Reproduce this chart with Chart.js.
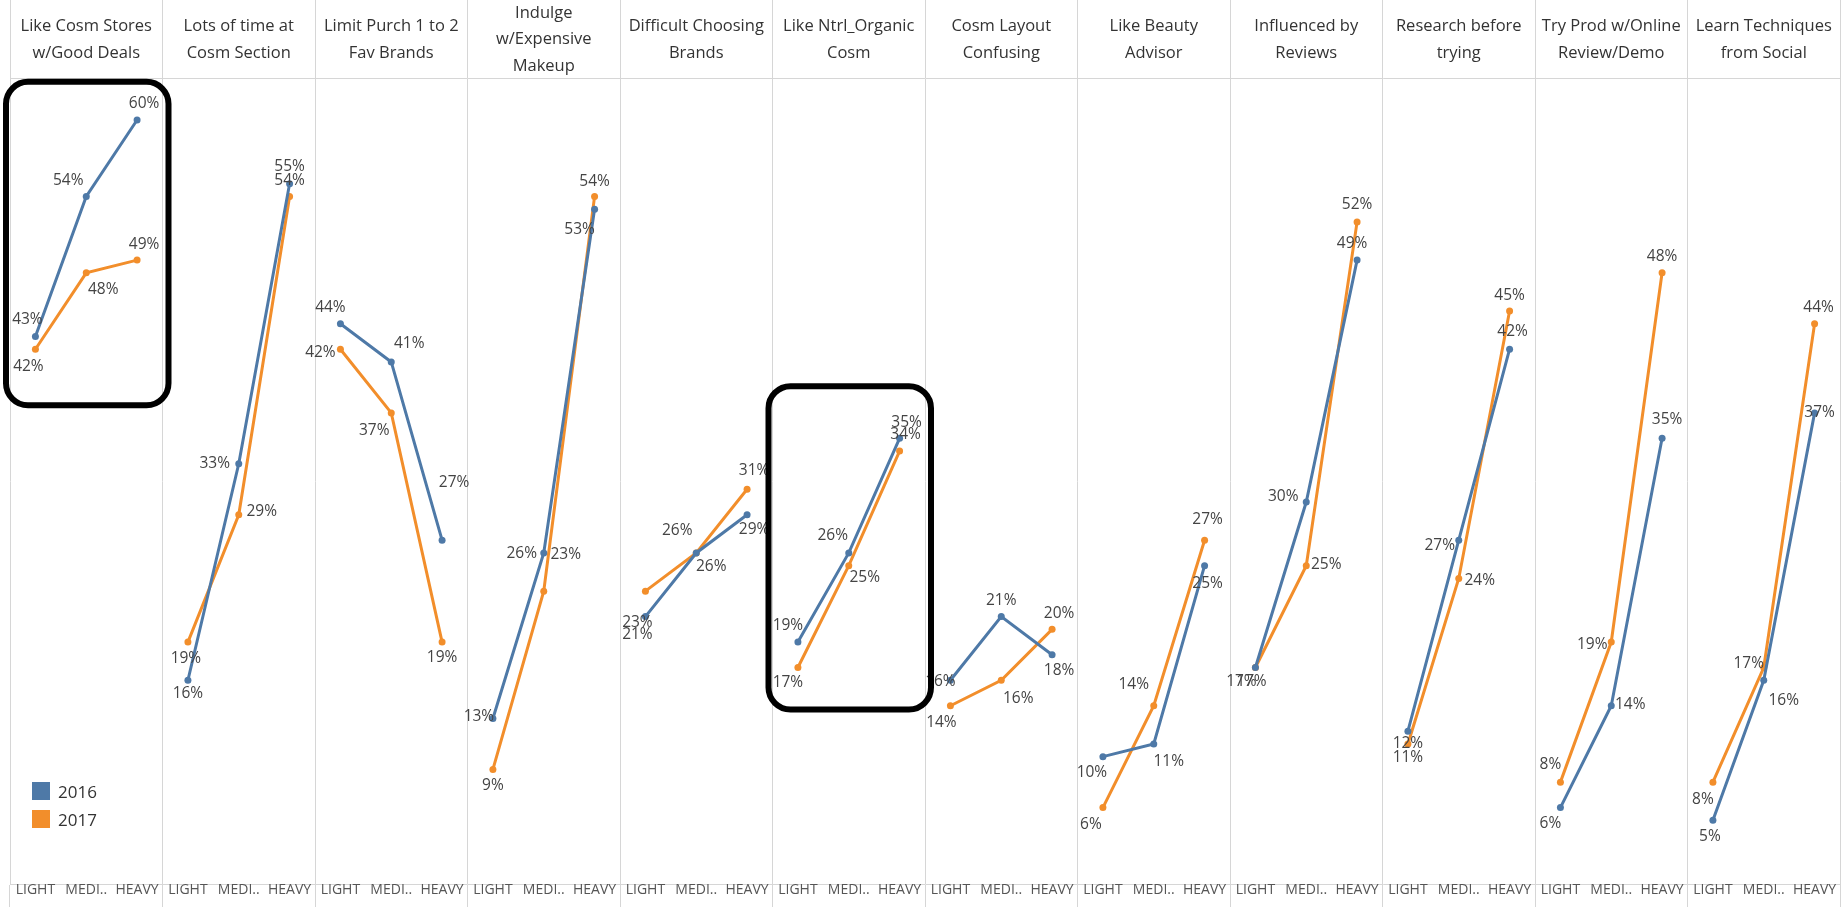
<!DOCTYPE html>
<html>
<head>
<meta charset="utf-8">
<script src="https://cdn.jsdelivr.net/npm/chart.js@4.4.1/dist/chart.umd.min.js"></script>
<style>
  html, body { margin: 0; padding: 0; background: #fff; }
  #wrap { position: relative; width: 1845px; height: 907px; }
  #legend { position: absolute; left: 32px; top: 777px; font: 17px 'Open Sans', sans-serif; color: #333; }
  #legend div { display: flex; align-items: center; height: 28px; }
  #legend span { display: inline-block; width: 18px; height: 18px; margin-right: 8px; }
</style>
</head>
<body>
<div id="wrap">
  <canvas id="chart"></canvas>
  <div id="legend"></div>
</div>
<script>
const panelTitles = [
    ['Like Cosm Stores', 'w/Good Deals'],
    ['Lots of time at', 'Cosm Section'],
    ['Limit Purch 1 to 2', 'Fav Brands'],
    ['Indulge', 'w/Expensive', 'Makeup'],
    ['Difficult Choosing', 'Brands'],
    ['Like Ntrl_Organic', 'Cosm'],
    ['Cosm Layout', 'Confusing'],
    ['Like Beauty', 'Advisor'],
    ['Influenced by', 'Reviews'],
    ['Research before', 'trying'],
    ['Try Prod w/Online', 'Review/Demo'],
    ['Learn Techniques', 'from Social']
];
const levels = ['LIGHT', 'MEDI..', 'HEAVY'];
const years = ['2016', '2017'];
const yearColors = ['#4e79a7', '#f28e2b'];

// percent per panel: light, medium, heavy
const values2016 = [
    [43, 54, 60], [16, 33, 55], [44, 41, 27], [13, 26, 53], [21, 26, 29], [19, 26, 35],
    [16, 21, 18], [10, 11, 25], [17, 30, 49], [12, 27, 42], [6, 14, 35], [5, 16, 37]
];
const values2017 = [
    [42, 48, 49], [19, 29, 54], [42, 37, 19], [9, 23, 54], [23, 26, 31], [17, 25, 34],
    [14, 16, 20], [6, 14, 27], [17, 25, 52], [11, 24, 45], [8, 19, 48], [8, 17, 44]
];

// where each value label sits, relative to its point (px)
const nudge2016 = [
    [[-8, -17], [-18, -16], [7, -16]], [[0, 13], [-24, 0], [0, -17]], [[-10, -16], [18, -18], [12, -58]],
    [[-14, -2], [-22, 1], [-15, 20]], [[-8, 18], [15, 14], [7, 15]], [[-10, -16], [-16, -17], [7, -16]],
    [[-10, 1], [0, -16], [7, 16]], [[-11, 16], [15, 18], [3, 18]], [[-14, 14], [-23, -5], [-5, -17]],
    [[0, 12], [-19, 5], [3, -18]], [[-10, 16], [19, -1], [5, -19]], [[-3, 16], [20, 20], [5, 0]]
];
const nudge2017 = [
    [[-7, 17], [17, 17], [7, -16]], [[-2, 17], [23, -3], [0, -16]], [[-20, 3], [-17, 18], [0, 16]],
    [[0, 16], [22, -37], [0, -15]], [[-8, 31], [-19, -22], [7, -19]], [[-10, 15], [16, 12], [6, -16]],
    [[-9, 17], [17, 18], [7, -16]], [[-12, 17], [-20, -21], [3, -21]], [[-4, 14], [20, -1], [0, -17]],
    [[0, 14], [21, 2], [0, -15]], [[-10, -18], [-19, 3], [0, -16]], [[-10, 17], [-15, -4], [4, -16]]
];

// black call-out boxes: panel index and value range they cover
const callouts = [
    { panel: 0, low: 37.6, high: 63.0 },
    { panel: 5, low: 13.7, high: 39.1 }
];

const gridGrey = '#d6d6d6';
const font = 'Open Sans';

function makeSet(i, values, nudges) {
    return {
        label: years[i],
        data: values.flat(),
        nudges: nudges.flat(1),
        borderColor: yearColors[i],
        backgroundColor: yearColors[i],
        borderWidth: 3,
        pointRadius: 3.5,
        pointHoverRadius: 3.5,
        pointBorderWidth: 0,
        tension: 0,
        segment: {
            borderColor: c => c.p0DataIndex % 3 === 2 ? 'rgba(0,0,0,0)' : yearColors[i]
        }
    };
}

const pointLabels = {
    id: 'pointLabels',
    afterDatasetsDraw(chart) {
        const ctx = chart.ctx;
        ctx.save();
        ctx.font = '15.5px "' + font + '"';
        ctx.fillStyle = '#444';
        ctx.textAlign = 'center';
        ctx.textBaseline = 'middle';
        chart.data.datasets.forEach((ds, di) => {
            chart.getDatasetMeta(di).data.forEach((pt, j) => {
                const [dx, dy] = ds.nudges[j];
                ctx.fillText(ds.data[j] + '%', pt.x + dx, pt.y + dy);
            });
        });
        ctx.restore();
    }
};

const calloutBoxes = {
    id: 'calloutBoxes',
    afterDraw(chart) {
        const { x, y } = chart.scales;
        const ctx = chart.ctx;
        const half = (x.getPixelForValue(1) - x.getPixelForValue(0)) / 2;
        const r = 22;
        ctx.save();
        ctx.lineWidth = 6;
        ctx.strokeStyle = '#000';
        callouts.forEach(b => {
            const l = x.getPixelForValue(b.panel * 3) - half - 4;
            const rt = x.getPixelForValue(b.panel * 3 + 2) + half + 6;
            const t = y.getPixelForValue(b.high);
            const bt = y.getPixelForValue(b.low);
            ctx.beginPath();
            ctx.moveTo(l + r, t);
            ctx.arcTo(rt, t, rt, bt, r);
            ctx.arcTo(rt, bt, l, bt, r);
            ctx.arcTo(l, bt, l, t, r);
            ctx.arcTo(l, t, rt, t, r);
            ctx.closePath();
            ctx.stroke();
        });
        ctx.restore();
    }
};

new Chart(document.getElementById('chart'), {
    type: 'line',
    data: {
        labels: panelTitles.flatMap(() => levels),
        datasets: [makeSet(0, values2016, nudge2016), makeSet(1, values2017, nudge2017)]
    },
    options: {
        responsive: true,
        maintainAspectRatio: false,
        animation: false,
        layout: { padding: { left: 10, right: 5, top: 0, bottom: 0 } },
        plugins: {
            legend: { display: false },
            tooltip: { enabled: false }
        },
        scales: {
            x: {
                offset: true,
                grid: {
                    offset: true,
                    drawOnChartArea: false,
                    tickLength: 23,
                    tickColor: c => (c.index === undefined || c.index % 3 === 0) ? gridGrey : 'rgba(0,0,0,0)'
                },
                border: { display: true, color: gridGrey },
                ticks: {
                    autoSkip: false,
                    maxRotation: 0,
                    padding: -25,
                    color: '#555',
                    font: { family: font, size: 14 }
                },
                afterFit: s => { s.height = 23; }
            },
            x2: {
                type: 'category',
                labels: panelTitles,
                position: 'top',
                offset: true,
                grid: { offset: true, color: gridGrey, tickLength: 78 },
                border: { display: true, color: gridGrey },
                ticks: {
                    autoSkip: false,
                    maxRotation: 0,
                    padding: -66,
                    crossAlign: 'center',
                    color: '#333',
                    font: { family: font, size: 16.5, lineHeight: 1.6 }
                },
                afterFit: s => { s.height = 78; }
            },
            y: { display: false, min: 0, max: 63.3 }
        }
    },
    plugins: [pointLabels, calloutBoxes]
});

const legend = document.getElementById('legend');
years.forEach((yr, i) => {
    const row = document.createElement('div');
    row.innerHTML = '<span style="background:' + yearColors[i] + '"></span>' + yr;
    legend.appendChild(row);
});
</script>
</body>
</html>
